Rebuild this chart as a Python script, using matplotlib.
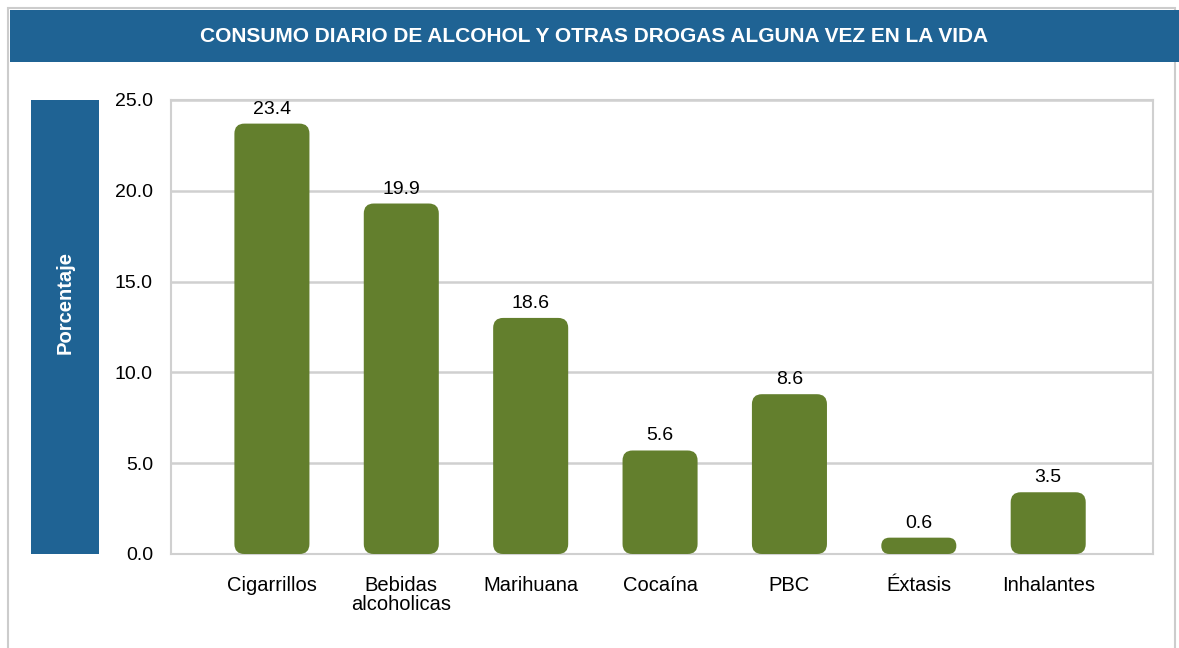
import numpy as np
import matplotlib.pyplot as plt
from matplotlib.patches import FancyBboxPatch, Rectangle

categories = ["Cigarrillos", "Bebidas\nalcoholicas", "Marihuana", "Cocaína", "PBC", "Éxtasis", "Inhalantes"]
# bar heights as drawn in the picture, and the printed value labels
bar_heights = [23.7, 19.3, 13.0, 5.7, 8.8, 0.9, 3.4]
value_labels = ["23.4", "19.9", "18.6", "5.6", "8.6", "0.6", "3.5"]
yticks = [0, 5, 10, 15, 20, 25]

W, H = 1179, 648
blue = "#1F6394"
green = "#637F2D"
grid = "#D0D0D0"

plt.rcParams['font.family'] = ['Liberation Sans', 'DejaVu Sans']

fig = plt.figure(figsize=(W / 100, H / 100), dpi=100)
fig.patch.set_facecolor("white")

# outer frame + title banner (figure pixel coords)
def fx(x): return x / W
def fy(y): return 1 - y / H

fig.add_artist(Rectangle((fx(8), -0.05), fx(1175) - fx(8), fy(8) + 0.05, transform=fig.transFigure,
                         facecolor="none", edgecolor="#CCCCCC", lw=1.5))
fig.add_artist(Rectangle((fx(10), fy(62)), 1 - fx(10), fy(10) - fy(62), transform=fig.transFigure,
                         facecolor=blue, edgecolor="none"))
fig.text(fx(594), fy(37), "CONSUMO DIARIO DE ALCOHOL Y OTRAS DROGAS ALGUNA VEZ EN LA VIDA",
         color="white", fontsize=15, fontweight="bold", ha="center", va="center",
         family=['Liberation Sans Narrow', 'Liberation Sans'])

# y-label block
fig.add_artist(Rectangle((fx(31), fy(554)), fx(99) - fx(31), fy(100) - fy(554), transform=fig.transFigure,
                         facecolor=blue, edgecolor="none"))
fig.text(fx(65), fy(302), "Porcentaje", color="white", fontsize=14.5, fontweight="bold",
         rotation=90, ha="center", va="center")

ax = fig.add_axes([fx(171), fy(554), fx(1153) - fx(171), fy(100) - fy(554)])
ax.set_xlim(-0.78, 6.81)
ax.set_ylim(0, 25)

x = np.arange(len(categories))
bar_w = 0.58
px_x = (fx(1153) - fx(171)) * W / (6.81 + 0.78)
px_y = (fy(100) - fy(554)) * H / 25
for xi, h, lab in zip(x, bar_heights, value_labels):
    r_px = min(10, h * px_y / 2)
    r = r_px / px_x
    p = FancyBboxPatch((xi - bar_w / 2, 0), bar_w, h,
                       boxstyle=f"round,pad=0,rounding_size={r}",
                       mutation_aspect=px_x / px_y, facecolor=green, edgecolor="none", zorder=3)
    ax.add_patch(p)
    ax.text(xi, h + 6 / px_y, lab, ha="center", va="bottom", fontsize=14, color="black")

ax.set_yticks(yticks)
ax.set_yticklabels([f"{t:.1f}" for t in yticks], fontsize=14)
ax.set_xticks(x)
ax.set_xticklabels(categories, fontsize=14.5, linespacing=1.0)
ax.tick_params(axis="both", length=0)
ax.tick_params(axis="y", pad=13)
ax.tick_params(axis="x", pad=16)
ax.grid(axis="y", color=grid, lw=1.8, zorder=0)
for s in ax.spines.values():
    s.set_color(grid)
    s.set_linewidth(1.5)

fig.savefig("out.png", dpi=100)
